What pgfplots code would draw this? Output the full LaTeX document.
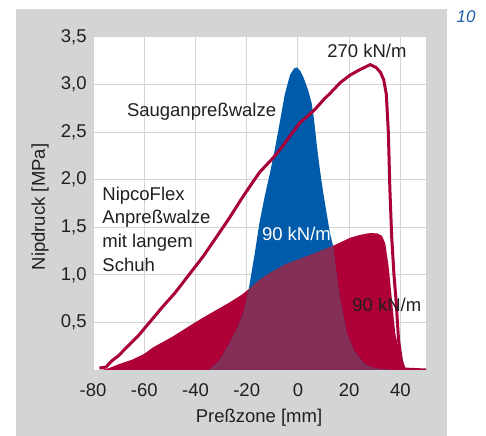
\documentclass[border=0pt]{standalone}
\usepackage{pgfplots}
\pgfplotsset{compat=1.18}
\usepackage{fontspec}
\setmainfont{Liberation Sans}
\definecolor{bg}{RGB}{211,212,214}
\definecolor{gridc}{RGB}{212,212,212}
\definecolor{rfill}{RGB}{175,0,56}
\definecolor{rline}{RGB}{170,0,58}
\definecolor{bfill}{RGB}{0,91,170}
\definecolor{ovl}{RGB}{133,47,87}
\definecolor{txt}{RGB}{35,31,32}
\definecolor{numblue}{RGB}{30,95,170}
\begin{document}
\fontsize{18.5bp}{24bp}\selectfont%
\begin{tikzpicture}
\fill[bg] (16bp,0) rectangle (447bp,427bp);
\path (0,0) rectangle (486bp,436bp);
\begin{axis}[
  at={(93bp,66bp)}, anchor=south west,
  scale only axis, width=333bp, height=333bp,
  xmin=-80, xmax=50, ymin=0, ymax=3.5,
  axis background/.style={fill=white},
  axis line style={draw=none},
  tick style={draw=none},
  no markers,
  xtick={-80,-60,-40,-20,0,20,40},
  ytick={0.5,1,1.5,2,2.5,3,3.5},
  grid=major,
  major grid style={gridc, line width=1bp},
  /pgf/number format/assume math mode=true,
  yticklabel style={/pgf/number format/use comma, /pgf/number format/fixed, /pgf/number format/fixed zerofill, /pgf/number format/precision=1},
  xticklabel style={yshift=-7bp},
  ticklabel style={text=txt},
]
% red fill: NipcoFlex 90 kN/m
\addplot[fill=rfill, draw=none] coordinates {
(-76.5,0) (-73.7,0.02) (-70,0.06) (-64.6,0.11) (-60,0.17) (-56.7,0.235) (-49,0.35) (-43.7,0.44) (-37.1,0.55) (-33.2,0.61) (-26.7,0.71) (-22,0.79) (-19.2,0.85) (-15,0.95) (-11,1.02) (-5,1.11) (0.8,1.17) (8.6,1.25) (13.7,1.305) (20.4,1.39) (24.3,1.42) (28.2,1.44) (31,1.435) (32.8,1.41) (34.1,1.33) (35.4,1.09) (36.7,0.735) (38,0.385) (40,0.14) (41.9,0)
} \closedcycle;
% blue fill: Sauganpresswalze 90 kN/m
\addplot[fill=bfill, draw=none] coordinates {
(-34.6,0) (-30.6,0.1) (-26.7,0.28) (-23.5,0.45) (-21,0.62) (-19.2,0.85) (-17,1.2) (-15,1.55) (-13,1.82) (-11,2.06) (-9,2.32) (-7.1,2.6) (-5.1,2.9) (-3.1,3.1) (-1.5,3.17) (-0.3,3.18) (1,3.14) (2.1,3.08) (4.0,2.94) (5.4,2.80) (6.3,2.63) (7.3,2.38) (8.6,2.10) (9.9,1.86) (11.2,1.65) (12.5,1.44) (13.7,1.305) (15,1.02) (16.5,0.735) (19.1,0.385) (21.7,0.21) (25.6,0.07) (29,0.025) (32,0.01) (36,0)
} \closedcycle;
% overlap of both
\addplot[fill=ovl, draw=none] coordinates {
(-34.6,0) (-30.6,0.1) (-26.7,0.28) (-23.5,0.45) (-21,0.62) (-19.2,0.85) (-15,0.95) (-11,1.02) (-5,1.11) (0.8,1.17) (8.6,1.25) (13.7,1.305) (15,1.02) (16.5,0.735) (19.1,0.385) (21.7,0.21) (25.6,0.07) (29,0.025) (32,0.01) (36,0)
} \closedcycle;
% red line: 270 kN/m
\addplot[rline, line width=3bp, line join=round] coordinates {
(-77.5,0.02) (-75,0.03) (-72.5,0.1) (-70,0.15) (-67.2,0.23) (-62,0.37) (-57,0.53) (-52.8,0.665) (-48,0.81) (-43.7,0.96) (-37.1,1.19) (-32,1.39) (-26.7,1.6) (-22,1.80) (-17.5,1.98) (-14.9,2.08) (-10,2.22) (-6,2.35) (-3.1,2.46) (0.8,2.6) (3,2.65) (6.7,2.74) (10,2.84) (13,2.92) (16.5,3.02) (20.4,3.1) (23.7,3.15) (26,3.18) (28.2,3.21) (30.5,3.18) (32.2,3.13) (33.5,3.05) (34.5,2.9) (35.3,2.5) (35.9,1.9) (36.6,1.4) (37.5,1.0) (38.3,0.735) (39.3,0.31) (40.4,0.1) (41.5,0.01) (50,0)
};
\node[anchor=base west, inner sep=0, text=txt] at (axis cs:-66.8,2.66) {Sauganpreßwalze};
\node[anchor=base west, inner sep=0, text=txt] at (axis cs:-76.4,1.786) {NipcoFlex};
\node[anchor=base west, inner sep=0, text=txt] at (axis cs:-76.4,1.539) {Anpreßwalze};
\node[anchor=base west, inner sep=0, text=txt] at (axis cs:-76.4,1.292) {mit langem};
\node[anchor=base west, inner sep=0, text=txt] at (axis cs:-76.4,1.040) {Schuh};
\node[anchor=base west, inner sep=0, text=white] at (axis cs:-14.1,1.358) {90 kN/m};
\node[anchor=base west, inner sep=0, text=txt] at (axis cs:21.2,0.612) {90 kN/m};
\node[anchor=base west, inner sep=0, text=txt] at (axis cs:11.4,3.284) {270 kN/m};
\end{axis}
\node[text=txt] at (259bp,18bp) {Preßzone [mm]};
\node[text=txt, rotate=90] at (40bp,229bp) {Nipdruck [MPa]};
\node[text=numblue, font=\fontsize{17bp}{20bp}\selectfont\itshape] at (466bp,419bp) {10};
\end{tikzpicture}
\end{document}
